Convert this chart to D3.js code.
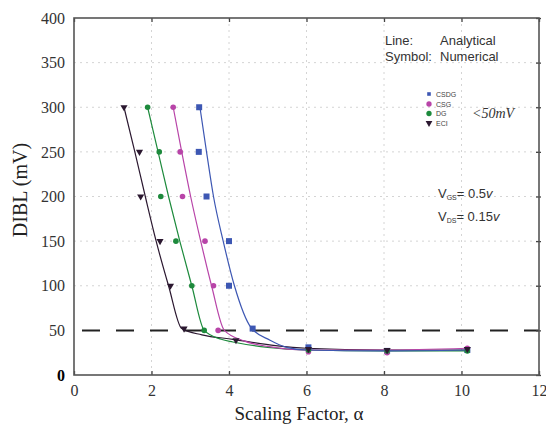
<!DOCTYPE html>
<html>
<head>
<meta charset="utf-8">
<script src="https://cdn.jsdelivr.net/npm/d3@7"></script>
<style>
  body { margin: 0; background: #fff; }
  svg { display: block; }
</style>
</head>
<body>
<div id="chart"></div>
<script>
'use strict'

// ---- data ----
const xTicks = [0, 2, 4, 6, 8, 10, 12]
const yTicks = [0, 50, 100, 150, 200, 250, 300, 350, 400]
const limitLine = 50

// numerical (symbols)
const eciPtsX  = [1.29, 1.69, 1.72, 2.22, 2.49, 2.84, 4.18, 6.05, 8.08, 10.15]
const eciPtsY  = [300, 250, 200, 150, 100, 52, 39, 29, 28, 29]
const dgPtsX   = [1.9, 2.2, 2.24, 2.63, 3.04, 3.36, 6.05, 8.08, 10.15]
const dgPtsY   = [300, 250, 200, 150, 100, 50, 28, 27, 27]
const csgPtsX  = [2.56, 2.74, 2.8, 3.38, 3.6, 3.72, 6.05, 8.08, 10.15]
const csgPtsY  = [300, 250, 200, 150, 100, 50, 26, 25, 30]
const csdgPtsX = [3.23, 3.22, 3.42, 4.0, 4.0, 4.61, 6.05, 8.08, 10.15]
const csdgPtsY = [300, 250, 200, 150, 100, 52, 31, 27, 28]

// analytical (lines)
const eciLineX  = [1.29, 1.57, 1.84, 2.12, 2.44, 2.78, 3.3, 4.1, 5.2, 6, 8, 10.15]
const eciLineY  = [300, 250, 200, 150, 100, 52, 45, 40, 33, 30, 28, 28]
const dgLineX   = [1.9, 2.17, 2.44, 2.73, 3.04, 3.36, 3.8, 4.1, 5, 6, 8, 10.15]
const dgLineY   = [300, 250, 200, 150, 100, 50, 40, 37, 31, 28, 27, 27]
const csgLineX  = [2.56, 2.78, 3.01, 3.27, 3.55, 3.88, 4.4, 5, 6, 8, 10.15]
const csgLineY  = [300, 250, 200, 150, 100, 50, 38, 32, 28, 28, 30]
const csdgLineX = [3.25, 3.42, 3.6, 3.85, 4.14, 4.57, 5.06, 5.49, 6, 8, 10.15]
const csdgLineY = [300, 250, 200, 150, 100, 53, 39, 31, 28, 27, 28]

const seriesNames = ["CSDG", "CSG", "DG", "ECI"]
const seriesColors = ["#3d57b3", "#b844a8", "#1d8a3c", "#2b1830"]
const seriesShapes = ["square", "circle", "circle", "triangle"]

function zip(xs, ys){
	return xs.map(function(x, i){ return {x: x, y: ys[i]} })
}

const series = [
	{name: "CSDG", pts: zip(csdgPtsX, csdgPtsY), line: zip(csdgLineX, csdgLineY)},
	{name: "CSG",  pts: zip(csgPtsX, csgPtsY),   line: zip(csgLineX, csgLineY)},
	{name: "DG",   pts: zip(dgPtsX, dgPtsY),     line: zip(dgLineX, dgLineY)},
	{name: "ECI",  pts: zip(eciPtsX, eciPtsY),   line: zip(eciLineX, eciLineY)}
]

// ---- layout ----
const width = 546, height = 427
const plot = {left: 74, right: 539, top: 18, bottom: 375}

const svg = d3.select("#chart").append("svg")
	.attr("width", width).attr("height", height)

const xScale = d3.scaleLinear().domain([0, 12]).range([plot.left, plot.right])
const yScale = d3.scaleLinear().domain([0, 400]).range([plot.bottom, plot.top])

// grid
svg.append("g").selectAll("line")
	.data(xTicks.filter(function(d){ return d > 0 && d < 12 }))
	.enter().append("line")
	.attr("x1", function(d){ return xScale(d) }).attr("x2", function(d){ return xScale(d) })
	.attr("y1", plot.top).attr("y2", plot.bottom)
	.attr("stroke", "#d4d4d4").attr("stroke-width", 1).attr("stroke-dasharray", "2,4")

svg.append("g").selectAll("line")
	.data(yTicks.filter(function(d){ return d > 0 && d < 400 && d != limitLine }))
	.enter().append("line")
	.attr("y1", function(d){ return yScale(d) }).attr("y2", function(d){ return yScale(d) })
	.attr("x1", plot.left).attr("x2", plot.right)
	.attr("stroke", "#d4d4d4").attr("stroke-width", 1).attr("stroke-dasharray", "2,4")

// 50 mV limit
svg.append("line")
	.attr("x1", plot.left).attr("x2", plot.right)
	.attr("y1", yScale(limitLine)).attr("y2", yScale(limitLine))
	.attr("stroke", "#222").attr("stroke-width", 2).attr("stroke-dasharray", "18,16")
	.attr("stroke-dashoffset", -8)

// axes
const tickFont = "'Liberation Serif', 'Times New Roman', serif"

const xAxisG = svg.append("g")
	.attr("transform", "translate(0," + plot.bottom + ")")
	.call(d3.axisBottom(xScale).tickValues(xTicks).tickSize(-4).tickPadding(10))
const yAxisG = svg.append("g")
	.attr("transform", "translate(" + plot.left + ",0)")
	.call(d3.axisLeft(yScale).tickValues(yTicks).tickSize(0).tickPadding(9))
svg.append("g")
	.attr("transform", "translate(0," + plot.top + ")")
	.call(d3.axisTop(xScale).tickValues(xTicks).tickSize(-4).tickFormat(""))
svg.append("g")
	.attr("transform", "translate(" + (plot.right + 2) + ",0)")
	.call(d3.axisRight(yScale).tickValues(yTicks).tickSize(-5).tickFormat(""))

svg.selectAll(".domain").remove()
svg.selectAll(".tick line").attr("stroke", "#444").attr("stroke-width", 1.3)
svg.selectAll(".tick text")
	.attr("font-family", tickFont).attr("font-size", 16).attr("fill", "#333")
yAxisG.selectAll(".tick text").filter(function(d){ return d === 0 })
	.attr("font-weight", "bold").attr("fill", "#000")

svg.append("rect")
	.attr("x", plot.left).attr("y", plot.top)
	.attr("width", plot.right - plot.left).attr("height", plot.bottom - plot.top)
	.attr("fill", "none").attr("stroke", "#555").attr("stroke-width", 1.6)

// axis titles
svg.append("text")
	.attr("x", 299).attr("y", 420)
	.attr("text-anchor", "middle")
	.attr("font-family", tickFont).attr("font-size", 19).attr("fill", "#222")
	.text("Scaling Factor, α")

svg.append("text")
	.attr("transform", "translate(27,190) rotate(-90)")
	.attr("text-anchor", "middle")
	.attr("font-family", tickFont).attr("font-size", 20).attr("fill", "#222")
	.text("DIBL (mV)")

// lines
const lineGen = d3.line()
	.x(function(d){ return xScale(d.x) })
	.y(function(d){ return yScale(d.y) })
	.curve(d3.curveMonotoneX)

series.slice().reverse().forEach(function(s){
	let i = seriesNames.indexOf(s.name)
	svg.append("path")
		.datum(s.line)
		.attr("d", lineGen)
		.attr("fill", "none")
		.attr("stroke", seriesColors[i])
		.attr("stroke-width", 1.2)
})

// symbols
function drawMarker(g, shape, color, cx, cy, scale){
	scale = scale || 1
	if (shape == "square"){
		g.append("rect")
			.attr("x", cx - 3 * scale).attr("y", cy - 3 * scale)
			.attr("width", 6 * scale).attr("height", 6 * scale)
			.attr("fill", color)
	} else if (shape == "circle"){
		g.append("circle")
			.attr("cx", cx).attr("cy", cy).attr("r", 2.8 * scale)
			.attr("fill", color)
	} else {
		g.append("path")
			.attr("d", d3.symbol().type(d3.symbolTriangle).size(22 * scale * scale)())
			.attr("transform", "translate(" + cx + "," + cy + ") rotate(180)")
			.attr("fill", color)
	}
}

const markG = svg.append("g")
series.forEach(function(s){
	let i = seriesNames.indexOf(s.name)
	s.pts.forEach(function(p){
		drawMarker(markG, seriesShapes[i], seriesColors[i], xScale(p.x), yScale(p.y))
	})
})

// annotation text
const sans = "'Liberation Sans', Arial, sans-serif"
const note = svg.append("g").attr("font-family", sans).attr("font-size", 13).attr("fill", "#333")
note.append("text").attr("x", 385).attr("y", 45).text("Line:")
note.append("text").attr("x", 440).attr("y", 45).text("Analytical")
note.append("text").attr("x", 385).attr("y", 61).text("Symbol:")
note.append("text").attr("x", 440).attr("y", 61).text("Numerical")

// legend
const legG = svg.append("g")
const legY = [94, 104, 113.5, 123]
seriesNames.forEach(function(n, i){
	drawMarker(legG, seriesShapes[i], seriesColors[i], 429, legY[i], seriesShapes[i] == "square" ? 0.6 : 0.95)
	legG.append("text")
		.attr("x", 436).attr("y", legY[i] + 2.5)
		.attr("font-family", sans).attr("font-size", 7).attr("fill", "#444")
		.text(n)
})

svg.append("text")
	.attr("x", 472).attr("y", 118)
	.attr("font-family", tickFont).attr("font-style", "italic").attr("font-size", 14).attr("fill", "#333")
	.text("<50mV")

// bias conditions
function biasLabel(y, sub, val){
	let t = svg.append("text").attr("x", 438).attr("y", y)
		.attr("font-family", sans).attr("font-size", 13).attr("fill", "#333")
	t.append("tspan").text("V")
	t.append("tspan").attr("font-size", 7).attr("dy", 2).text(sub)
	t.append("tspan").attr("dy", -2).text("= " + val)
	t.append("tspan").attr("font-style", "italic").text("v")
}
biasLabel(198, "GS", "0.5")
biasLabel(221, "DS", "0.15")
</script>
</body>
</html>
